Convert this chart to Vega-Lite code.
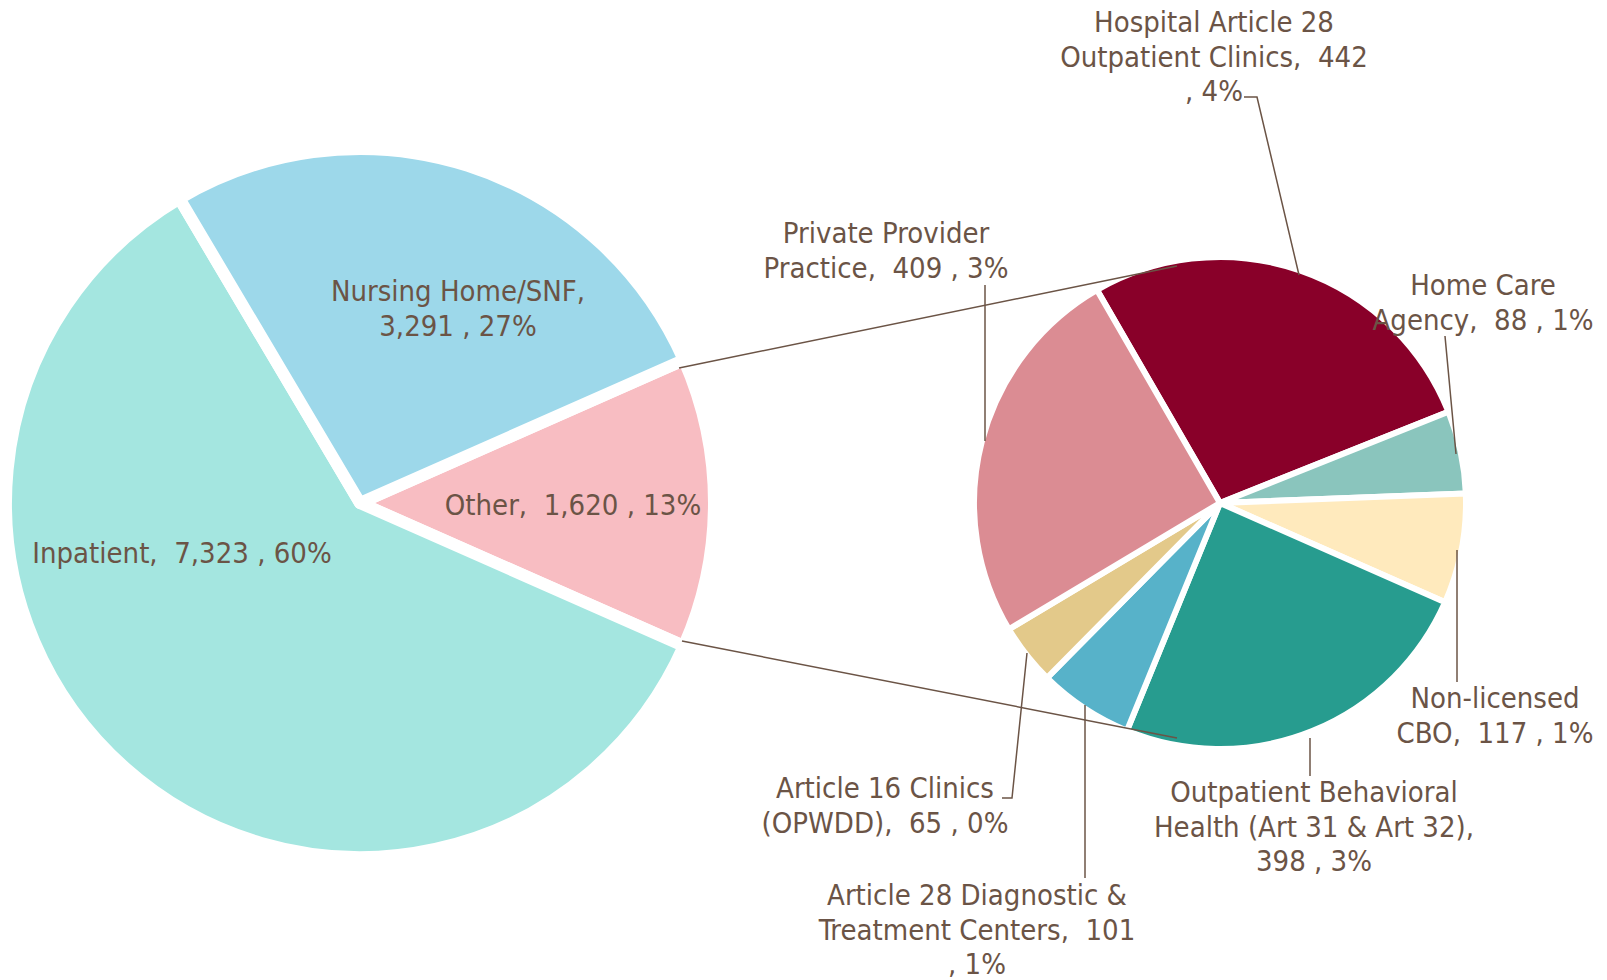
{
  "$schema": "https://vega.github.io/schema/vega-lite/v6.json",
  "width": 1607,
  "height": 980,
  "padding": 0,
  "autosize": {"type": "none"},
  "background": "white",
  "config": {"view": {"stroke": null}},
  "datasets": {
    "main": [
      {"name": "Other", "value": 1620, "idx": 0},
      {"name": "Inpatient", "value": 7323, "idx": 1},
      {"name": "Nursing Home/SNF", "value": 3291, "idx": 2}
    ],
    "other": [
      {"name": "Hospital Article 28 Outpatient Clinics", "value": 442, "idx": 0},
      {"name": "Home Care Agency", "value": 88, "idx": 1},
      {"name": "Non-licensed CBO", "value": 117, "idx": 2},
      {"name": "Outpatient Behavioral Health (Art 31 & Art 32)", "value": 398, "idx": 3},
      {"name": "Article 28 Diagnostic & Treatment Centers", "value": 101, "idx": 4},
      {"name": "Article 16 Clinics (OPWDD)", "value": 65, "idx": 5},
      {"name": "Private Provider Practice", "value": 409, "idx": 6}
    ],
    "labels": [
      {"text": ["Nursing Home/SNF,", "3,291 , 27%"], "x": 458, "y": 301},
      {"text": ["Other,\u00a0\u00a01,620 , 13%"], "x": 573, "y": 515},
      {"text": ["Inpatient,\u00a0\u00a07,323 , 60%"], "x": 182, "y": 563},
      {"text": ["Hospital Article 28", "Outpatient Clinics,\u00a0\u00a0442", ", 4%"], "x": 1214, "y": 32},
      {"text": ["Private Provider", "Practice,\u00a0\u00a0409 , 3%"], "x": 886, "y": 243},
      {"text": ["Home Care", "Agency,\u00a0\u00a088 , 1%"], "x": 1483, "y": 295},
      {"text": ["Non-licensed", "CBO,\u00a0\u00a0117 , 1%"], "x": 1495, "y": 708},
      {"text": ["Outpatient Behavioral", "Health (Art 31 & Art 32),", "398 , 3%"], "x": 1314, "y": 802},
      {"text": ["Article 16 Clinics", "(OPWDD),\u00a0\u00a065 , 0%"], "x": 885, "y": 798},
      {"text": ["Article 28 Diagnostic &", "Treatment Centers,\u00a0\u00a0101", ", 1%"], "x": 977, "y": 905}
    ],
    "lines": [
      {"id": "conn_top", "seq": 0, "x": 679, "y": 368},
      {"id": "conn_top", "seq": 1, "x": 1177, "y": 266},
      {"id": "conn_bot", "seq": 0, "x": 682, "y": 641},
      {"id": "conn_bot", "seq": 1, "x": 1177, "y": 738},
      {"id": "hosp", "seq": 0, "x": 1244, "y": 97},
      {"id": "hosp", "seq": 1, "x": 1257, "y": 97},
      {"id": "hosp", "seq": 2, "x": 1299, "y": 275},
      {"id": "priv", "seq": 0, "x": 985, "y": 285},
      {"id": "priv", "seq": 1, "x": 985, "y": 441},
      {"id": "home", "seq": 0, "x": 1445, "y": 336},
      {"id": "home", "seq": 1, "x": 1456, "y": 454},
      {"id": "ncbo", "seq": 0, "x": 1457, "y": 550},
      {"id": "ncbo", "seq": 1, "x": 1457, "y": 682},
      {"id": "obh", "seq": 0, "x": 1310, "y": 738},
      {"id": "obh", "seq": 1, "x": 1310, "y": 776},
      {"id": "a16", "seq": 0, "x": 1002, "y": 798},
      {"id": "a16", "seq": 1, "x": 1012, "y": 798},
      {"id": "a16", "seq": 2, "x": 1027, "y": 653},
      {"id": "a28", "seq": 0, "x": 1085, "y": 705},
      {"id": "a28", "seq": 1, "x": 1085, "y": 878}
    ]
  },
  "layer": [
    {
      "data": {"name": "main"},
      "mark": {"type": "arc", "outerRadius": 354, "stroke": "white", "strokeWidth": 12, "strokeJoin": "round"},
      "encoding": {
        "x": {"datum": 360, "type": "quantitative", "scale": {"domain": [0, 1607], "nice": false, "zero": false}, "axis": null},
        "y": {"datum": 503, "type": "quantitative", "scale": {"domain": [0, 980], "nice": false, "zero": false, "reverse": true}, "axis": null},
        "theta": {"field": "value", "type": "quantitative", "stack": true, "scale": {"range": [1.1547, 7.4379]}},
        "order": {"field": "idx", "type": "quantitative"},
        "color": {
          "field": "name", "type": "nominal", "legend": null,
          "scale": {
            "domain": ["Inpatient", "Nursing Home/SNF", "Other", "Hospital Article 28 Outpatient Clinics", "Home Care Agency", "Non-licensed CBO", "Outpatient Behavioral Health (Art 31 & Art 32)", "Article 28 Diagnostic & Treatment Centers", "Article 16 Clinics (OPWDD)", "Private Provider Practice"],
            "range": ["#A4E6E0", "#9DD8EA", "#F8BDC2", "#890029", "#8AC5BD", "#FFEABD", "#279C8F", "#57B2C9", "#E3C98A", "#DB8C93"]
          }
        }
      }
    },
    {
      "data": {"name": "other"},
      "mark": {"type": "arc", "outerRadius": 246, "stroke": "white", "strokeWidth": 6, "strokeJoin": "round"},
      "encoding": {
        "x": {"datum": 1220, "type": "quantitative"},
        "y": {"datum": 503, "type": "quantitative"},
        "theta": {"field": "value", "type": "quantitative", "stack": true, "scale": {"range": [-0.5236, 5.7596]}},
        "order": {"field": "idx", "type": "quantitative"},
        "color": {"field": "name", "type": "nominal", "legend": null}
      }
    },
    {
      "data": {"name": "lines"},
      "mark": {"type": "line", "color": "#6B5446", "strokeWidth": 1.5},
      "encoding": {
        "x": {"field": "x", "type": "quantitative"},
        "y": {"field": "y", "type": "quantitative"},
        "detail": {"field": "id", "type": "nominal"},
        "order": {"field": "seq", "type": "quantitative"}
      }
    },
    {
      "data": {"name": "labels"},
      "mark": {"type": "text", "font": "DejaVu Sans Condensed, DejaVu Sans", "fontSize": 29, "color": "#6B5446", "align": "center", "baseline": "alphabetic", "lineHeight": 34.7},
      "encoding": {
        "x": {"field": "x", "type": "quantitative"},
        "y": {"field": "y", "type": "quantitative"},
        "text": {"field": "text", "type": "nominal"}
      }
    }
  ],
  "resolve": {"scale": {"theta": "independent"}}
}
